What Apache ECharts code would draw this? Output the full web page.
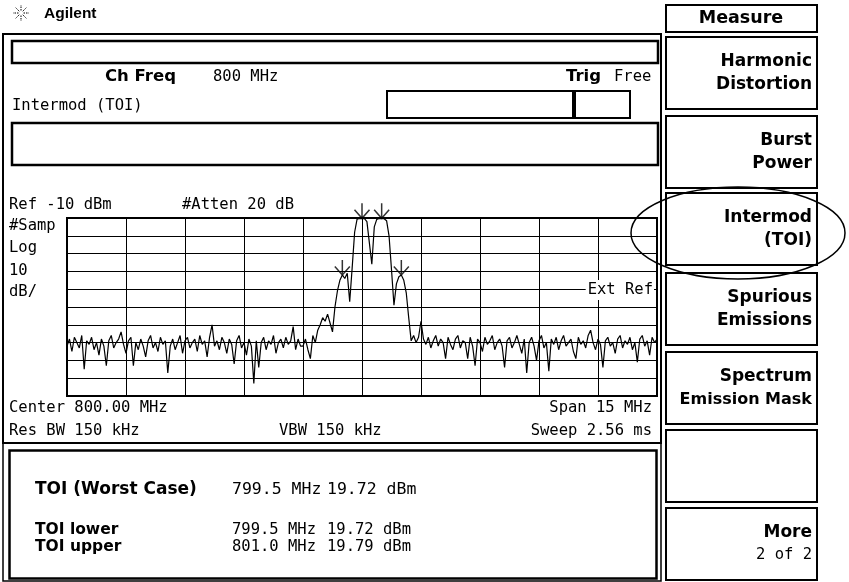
<!DOCTYPE html>
<html><head><meta charset="utf-8">
<script src="https://cdn.jsdelivr.net/npm/echarts@6/dist/echarts.min.js"></script>
<style>html,body{margin:0;padding:0;background:#fff}#c{width:849px;height:582px}</style>
</head><body><div id="c"></div>
<script>
// ---- data ----
const centerFreqMHz = 800;
const startFreqMHz = 792.5;
const stepFreqMHz = 0.0625;
const refLevelDbm = -10;
const bottomLevelDbm = -110;
const traceDbm = [
-82,-78,-85,-77,-80,-83,-76,-95,-79,-81,
-77,-84,-80,-87,-78,-82,-93,-79,-76,-83,
-80,-78,-74,-81,-86,-79,-77,-93,-80,-84,
-78,-82,-88,-79,-76,-83,-80,-85,-77,-81,
-79,-97,-82,-78,-84,-80,-76,-86,-79,-77,
-83,-80,-78,-85,-76,-81,-79,-88,-77,-70,
-82,-79,-84,-77,-80,-86,-78,-81,-92,-79,
-76,-83,-80,-87,-78,-82,-103,-79,-94,-80,
-77,-84,-79,-81,-76,-86,-80,-78,-83,-77,
-81,-79,-71,-84,-78,-82,
-82,-78,-84,-89,-76,-80,-73,-70,-66,-68,-64,-69,-74,-60,-51,-45,-42,-44,-41,-57,
-38,-18,-10.6,-10.3,-10.2,-10.4,-12,-24,-36,-15,-10.8,-10.3,-10.2,-10.4,-11.5,-20,
-39,-59,-47,-43,-42,-45,-52,-66,
-79,-76,-80,-77,-68,-78,-81,-77,-83,-79,
-76,-82,-78,-80,-89,-77,-81,-84,-78,-76,
-83,-79,-80,-89,-77,-82,-93,-78,-80,-85,
-77,-81,-79,-76,-84,-80,-78,-82,-94,-79,
-77,-83,-80,-76,-81,-86,-78,-97,-80,-77,
-82,-90,-79,-76,-83,-80,-96,-78,-81,-77,
-84,-79,-76,-82,-80,-78,-85,-89,-77,-81,
-79,-83,-76,-73,-80,-84,-78,-81,-94,-79,
-77,-82,-80,-86,-78,-76,-83,-79,-81,-77,
-84,-80,-91,-78,-76,-82,-79,-87,-77,-80,
-78
];
const markerFreqs = [799.5, 800.0, 800.5, 801.0];
const markerDbm = [-42, -10.2, -10.2, -42];
const softkeyLabels = [
  ['Harmonic','Distortion'], ['Burst','Power'], ['Intermod','(TOI)'],
  ['Spurious','Emissions'], ['Spectrum','Emission Mask'], [], ['More','2 of 2']
];
const resultRows = [
  ['TOI lower', '799.5 MHz', '19.72 dBm'],
  ['TOI upper', '801.0 MHz', '19.79 dBm']
];
const worstCase = ['TOI (Worst Case)', '799.5 MHz', '19.72 dBm'];

// ---- build ----
const traceData = traceDbm.map((v, i) => [startFreqMHz + i * stepFreqMHz - centerFreqMHz, v]);
const markerData = markerFreqs.map((f, i) => [f - centerFreqMHz, markerDbm[i]]);

const MONO = '"DejaVu Sans Mono"';
const BOLD = '"DejaVu Sans"';
const NF = '15.5px ' + MONO;
function txt(x, y, s, font, align, extra) {
  return Object.assign({
    type: 'text', x: x, y: y, z: 20,
    style: { text: s, font: font, fill: '#000', align: align || 'left', verticalAlign: 'middle',
             textAlign: align || 'left', textVerticalAlign: 'middle' }
  }, extra || {});
}
function box(x, y, w, h, lw) {
  return { type: 'rect', z: 20, shape: { x: x, y: y, width: w, height: h },
           style: { fill: 'none', stroke: '#000', lineWidth: lw || 2 } };
}
const g = [];
// logo
const rays = [[0,-1],[0.7,-0.7],[1,0],[0.7,0.7],[0,1],[-0.7,0.7],[-1,0],[-0.7,-0.7]];
rays.forEach(r => g.push({ type: 'line', z: 20, shape: { x1: 21 + r[0]*2.5, y1: 13 + r[1]*2.5, x2: 21 + r[0]*8, y2: 13 + r[1]*8 },
  style: { stroke: '#000', lineWidth: 1, lineDash: [1.5, 1] } }));
g.push(txt(44, 14, 'Agilent', 'bold 15.5px "Liberation Sans"'));
// main panel
g.push(box(3, 34, 658, 409, 2));
g.push(box(12, 41, 646, 22, 2.5));
g.push(txt(105, 77, 'Ch Freq', 'bold 16.5px ' + BOLD));
g.push(txt(213, 77, '800 MHz', NF));
g.push(txt(566, 77, 'Trig', 'bold 16.5px ' + BOLD));
g.push(txt(614, 77, 'Free', NF));
g.push(txt(12, 106, 'Intermod (TOI)', NF));
g.push(box(387, 91, 243, 27, 2));
g.push({ type: 'rect', z: 20, shape: { x: 572, y: 91, width: 4, height: 27 }, style: { fill: '#000' } });
g.push(box(12, 123, 646, 42, 2.5));
g.push(txt(9, 205, 'Ref -10 dBm', NF));
g.push(txt(182, 205, '#Atten 20 dB', NF));
g.push(txt(9, 226, '#Samp', NF));
g.push(txt(9, 248, 'Log', NF));
g.push(txt(9, 271, '10', NF));
g.push(txt(9, 292, 'dB/', NF));
g.push(txt(654, 290, 'Ext Ref', NF, 'right',
  { z: 30, style: { text: 'Ext Ref', font: NF, fill: '#000', align: 'right', verticalAlign: 'middle',
    textAlign: 'right', textVerticalAlign: 'middle', backgroundColor: '#fff', padding: [2, 1, 2, 2] } }));
g.push(txt(9, 408, 'Center 800.00 MHz', NF));
g.push(txt(9, 431, 'Res BW 150 kHz', NF));
g.push(txt(279, 431, 'VBW 150 kHz', NF));
g.push(txt(652, 408, 'Span 15 MHz', NF, 'right'));
g.push(txt(652, 431, 'Sweep 2.56 ms', NF, 'right'));
// lower panel
g.push(box(3, 443, 658, 138, 1.5));
g.push(box(9.5, 450.5, 647, 128, 2.5));
g.push(txt(35, 490, worstCase[0], 'bold 17px ' + BOLD));
g.push(txt(232, 490, worstCase[1], '16.5px ' + MONO));
g.push(txt(327, 490, worstCase[2], '16.5px ' + MONO));
resultRows.forEach((r, i) => {
  const y = 530 + i * 17;
  g.push(txt(35, y, r[0], 'bold 15.5px ' + BOLD));
  g.push(txt(232, y, r[1], NF));
  g.push(txt(327, y, r[2], NF));
});
// softkeys
g.push(box(666, 5, 151, 27, 2));
g.push(txt(741, 18, 'Measure', 'bold 17.5px ' + BOLD, 'center'));
const keyTops = [37, 116, 193, 273, 352, 430, 508];
keyTops.forEach((t, i) => {
  g.push(box(666, t, 151, 72, 2));
  const lab = softkeyLabels[i];
  if (lab.length) {
    g.push(txt(812, t + 25, lab[0], 'bold 17px ' + BOLD, 'right'));
    const f2 = lab[1].length > 11 ? 'bold 16px ' + BOLD : 'bold 17px ' + BOLD;
    if (lab[0] === 'More') g.push(txt(812, t + 47, lab[1], NF, 'right'));
    else g.push(txt(812, t + 48, lab[1], f2, 'right'));
  }
});
g.push({ type: 'ellipse', z: 25, shape: { cx: 738, cy: 233, rx: 107, ry: 46 },
  style: { fill: 'none', stroke: '#000', lineWidth: 1.5 } });

const chart = echarts.init(document.getElementById('c'), null, { renderer: 'canvas' });
chart.setOption({
  animation: false,
  backgroundColor: '#fff',
  grid: { left: 67, top: 218, width: 590, height: 178, show: true, borderColor: '#000', borderWidth: 2, backgroundColor: 'transparent' },
  xAxis: { type: 'value', min: -7.5, max: 7.5, interval: 1.5,
    axisLine: { show: false }, axisTick: { show: false }, axisLabel: { show: false },
    splitLine: { show: true, lineStyle: { color: '#000', width: 1 } } },
  yAxis: { type: 'value', min: bottomLevelDbm, max: refLevelDbm, interval: 10,
    axisLine: { show: false }, axisTick: { show: false }, axisLabel: { show: false },
    splitLine: { show: true, lineStyle: { color: '#000', width: 1 } } },
  series: [
    { type: 'line', data: traceData, showSymbol: false, symbol: 'none', lineStyle: { color: '#000', width: 1.2 }, z: 5 },
    { type: 'scatter', data: markerData, clip: false, z: 6,
      symbol: 'path://M7,0 L7,14 M0,6 L7,14 L14,6', symbolSize: [15, 15], symbolOffset: [0, '-50%'],
      itemStyle: { color: 'rgba(0,0,0,0)', borderColor: '#000', borderWidth: 1.5 } }
  ],
  graphic: { elements: g }
});
</script>
</body></html>
